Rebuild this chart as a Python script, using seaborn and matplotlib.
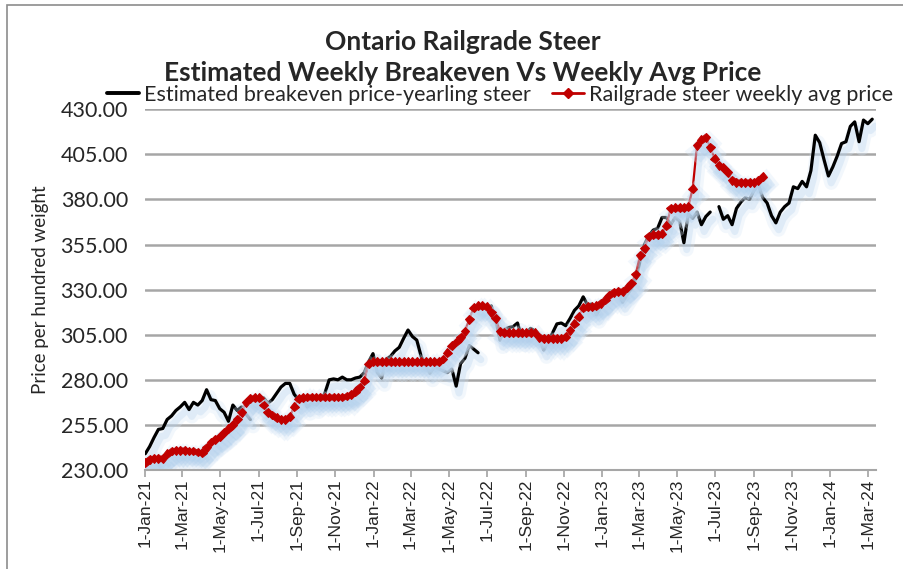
import numpy as np
import pandas as pd
import seaborn as sns
import matplotlib.pyplot as plt
import matplotlib.dates as mdates
import matplotlib.patheffects as pe
from matplotlib.lines import Line2D
from matplotlib.patches import Rectangle

# weekly series, first week = 1-Jan-21 (None = no estimate that week)
start_date = "2021-01-01"
breakeven = [
    239, 243, 248, 252.5, 253, 258, 260, 263, 265, 267.5,
    263.5, 267.5, 266, 268.5, 274.5, 269, 268.5, 264, 262, 257,
    266, 263, 265, 261, 258, None, None, 270, 267, 269,
    272.5, 276, 278, 278, 272, 269, 269.5, 265, 267, 266,
    268.5, 272.5, 280, 280.5, 280, 281.5, 280, 280, 281, 281.5,
    284, 290, 294.5, 284, 281, 291.5, 293, 296, 298, 303,
    307.6, 304, 302, 293, 288, 283.6, 287, 286, 285, 284,
    286, 276.5, 289, 292, 299, 297, 295, None, None, 321,
    314, 302, 308, 309, 309.5, 311.5, 303, 306, 308.5, 307,
    302, 296.5, 301, 306, 311, 311.5, 310, 314, 318.5, 321,
    326, 321.5, 322, 316, 320, 324, 327, 328, 328.5, 323,
    327, 330.5, 336, 346, 355, 360, 363, 364, 370, 370,
    366, 370, 368, 356, 372, 369.5, 373, 366, 370.5, 373,
    None, 376, 369, 371, 366, 375, 378.5, 381, 380, 385,
    388, 381, 378, 371, 367, 373, 376, 378, 387, 386,
    390, 387, 396, 415.6, 411.5, 402, 393, 398, 404, 411,
    412, 420.5, 423, 412, 424, 422, 424.5,
]
railgrade = [
    234, 236, 236.5, 236.5, 236.5, 239, 240.5, 241, 241, 241,
    240.5, 240.5, 240, 239.5, 242.5, 245.5, 247, 248.5, 251, 253,
    255, 258, 262, 267.5, 269.7, 270, 270, 266, 262, 260.5,
    259, 258, 258, 259.5, 265, 269.5, 270, 270.5, 270.5, 270.5,
    270.5, 270.5, 270.5, 270.5, 270.5, 270.5, 271, 272, 273.5, 276,
    279.5, 289, 290, 290, 290, 290, 290, 290, 290, 290,
    290, 290, 290, 290, 290, 290, 290, 290, 291.5, 295,
    299, 301, 303.5, 307, 313.5, 320, 321, 321, 320.5, 317.5,
    314, 307, 306, 306, 306, 306, 306, 306, 306, 306,
    303.5, 303, 303, 303, 303, 303, 304, 307.5, 311, 315,
    320, 320.5, 320.5, 321, 322.5, 324.5, 327, 328.5, 329, 329,
    331, 333.5, 338.5, 349, 353, 359.5, 360.5, 360.5, 361, 365.5,
    375, 375.5, 375.5, 375.5, 376, 386, 410, 413, 414.5, 409,
    402.5, 399, 397.5, 395, 390.5, 389.5, 389.5, 389.5, 389.5, 389.5,
    390.5, 392.5,
]
y_ticks = [230, 255, 280, 305, 330, 355, 380, 405, 430]
series_names = ["Estimated breakeven price-yearling steer", "Railgrade steer weekly avg price"]

be = pd.DataFrame({"date": pd.date_range(start_date, periods=len(breakeven), freq="7D"),
                   "price": pd.Series(breakeven, dtype=float)})
be["seg"] = be["price"].isna().cumsum()
be = be.dropna()
rg = pd.DataFrame({"date": pd.date_range(start_date, periods=len(railgrade), freq="7D"),
                   "price": railgrade})

sns.set_theme(style="white")
plt.rcParams["font.family"] = ["Lato", "DejaVu Sans"]

fig = plt.figure(figsize=(9.04, 5.69), dpi=100)
ax = fig.add_axes([0.160, 0.174, 0.809, 0.634])

glow = [pe.SimpleLineShadow(offset=(2, -5), shadow_color="#d6e6f6", alpha=0.3, linewidth=10),
        pe.SimpleLineShadow(offset=(2, -5), shadow_color="#a9cbeb", alpha=0.25, linewidth=5),
        pe.Normal()]

red = "#c00000"
sns.lineplot(data=be, x="date", y="price", units="seg", estimator=None,
             color="black", linewidth=2.3, ax=ax, legend=False)
sns.lineplot(data=rg, x="date", y="price", color=red, linewidth=1.6,
             marker="D", markersize=4.5, markeredgecolor=red, ax=ax, legend=False)
for ln in ax.lines:
    ln.set_path_effects(glow)

ax.set_ylim(230, 430)
ax.set_yticks(y_ticks)
ax.set_yticklabels([f"{v:.2f}" for v in y_ticks], fontsize=15.5)
ax.set_xlim(pd.Timestamp("2020-12-31"), pd.Timestamp("2024-03-14"))
ax.xaxis.set_major_locator(mdates.MonthLocator(bymonth=[1, 3, 5, 7, 9, 11], bymonthday=1))
ax.xaxis.set_major_formatter(mdates.DateFormatter("%-d-%b-%y"))
for lab in ax.get_xticklabels():
    lab.set_rotation(90)
    lab.set_fontsize(12.5)
    lab.set_fontfamily("Liberation Sans")
ax.grid(axis="y", color="#a6a6a6", linewidth=1.8)
ax.set_axisbelow(True)
for s in ["top", "right", "left"]:
    ax.spines[s].set_visible(False)
ax.spines["bottom"].set_color("#a6a6a6")
ax.spines["bottom"].set_linewidth(1.5)
ax.tick_params(axis="x", bottom=True, length=5, color="#a6a6a6", pad=1)
ax.tick_params(axis="y", left=False, pad=6)
ax.set_xlabel("")
ax.set_ylabel("Price per hundred weight", fontsize=13.5, labelpad=8)

fig.text(0.512, 0.926, "Ontario Railgrade Steer", ha="center", va="center",
         fontsize=19, fontweight="bold")
fig.text(0.512, 0.872, "Estimated Weekly Breakeven Vs Weekly Avg Price", ha="center",
         va="center", fontsize=19, fontweight="bold")

handles = [Line2D([], [], color="black", linewidth=2.8),
           Line2D([], [], color=red, linewidth=2, marker="D", markersize=5)]
fig.legend(handles, series_names, loc="center", bbox_to_anchor=(0.553, 0.833), ncol=2,
           frameon=False, fontsize=15.5, handlelength=1.5, handletextpad=0.2,
           columnspacing=1.0, borderaxespad=0, borderpad=0)

fig.patches.append(Rectangle((0.008, -0.1), 1.2, 1.092, transform=fig.transFigure,
                             fill=False, edgecolor="#8c8c8c", linewidth=1.2))

fig.savefig("out.png", dpi=100)
